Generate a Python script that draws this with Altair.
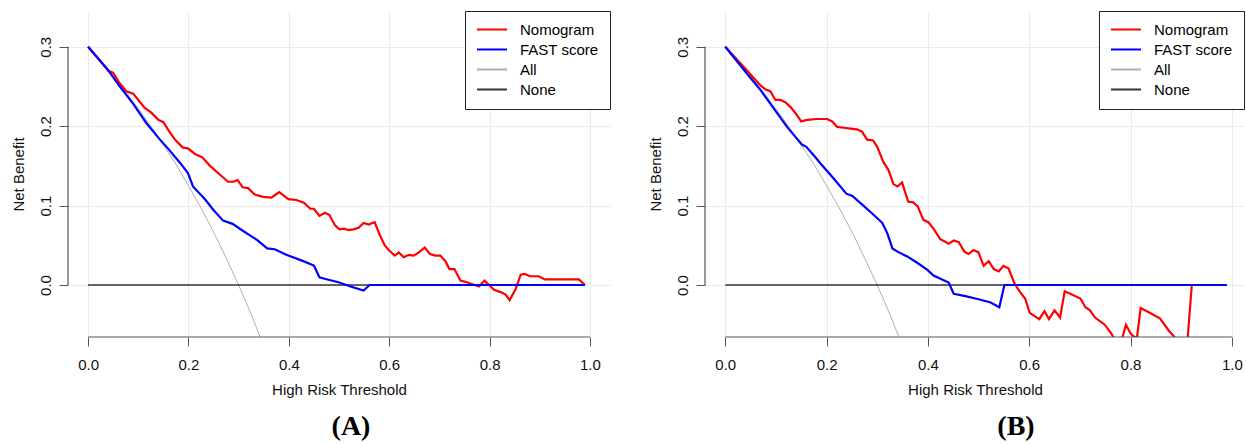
import altair as alt
import pandas as pd

# ---------------- data ----------------
SERIES = ["Nomogram", "FAST score", "All", "None"]
COLORS = ["#ff0000", "#0000ff", "#b0b0b0", "#333333"]
WIDTHS = {"Nomogram": 2.2, "FAST score": 2.2, "All": 1.0, "None": 1.4}

# "All" (treat everyone) curve, same prevalence in both panels
ALL_X = [0.0, 0.025, 0.05, 0.075, 0.1, 0.125, 0.15, 0.175, 0.2, 0.225, 0.25, 0.275, 0.3, 0.325, 0.35]
ALL_Y = [0.300, 0.282, 0.263, 0.243, 0.222, 0.200, 0.176, 0.152, 0.125, 0.097, 0.067, 0.034, 0.000, -0.037, -0.077]

# "None" (treat no one)
NONE_X = [0.0, 0.99]
NONE_Y = [0.0, 0.0]

# Panel A
A_NOMO_X = [0.0, 0.02, 0.04, 0.05, 0.063, 0.076, 0.09, 0.10, 0.113, 0.126, 0.14, 0.15, 0.16, 0.173, 0.189,
            0.199, 0.213, 0.227, 0.243, 0.259, 0.279, 0.289, 0.298, 0.308, 0.319, 0.332, 0.349, 0.365, 0.372,
            0.381, 0.399, 0.415, 0.43, 0.443, 0.45, 0.461, 0.472, 0.481, 0.492, 0.501, 0.51, 0.519, 0.529,
            0.539, 0.549, 0.559, 0.571, 0.582, 0.591, 0.599, 0.611, 0.619, 0.629, 0.639, 0.649, 0.659, 0.671,
            0.681, 0.692, 0.702, 0.712, 0.72, 0.73, 0.742, 0.752, 0.766, 0.779, 0.79, 0.799, 0.809, 0.822,
            0.832, 0.84, 0.852, 0.862, 0.87, 0.88, 0.898, 0.91, 0.978, 0.99]
A_NOMO_Y = [0.300, 0.285, 0.270, 0.267, 0.254, 0.244, 0.241, 0.233, 0.223, 0.217, 0.208, 0.205, 0.195, 0.183, 0.173,
            0.172, 0.165, 0.161, 0.150, 0.141, 0.130, 0.130, 0.132, 0.123, 0.122, 0.114, 0.111, 0.110, 0.113,
            0.117, 0.108, 0.107, 0.1035, 0.096, 0.096, 0.087, 0.091, 0.088, 0.075, 0.070, 0.071, 0.069, 0.070,
            0.072, 0.078, 0.076, 0.079, 0.062, 0.050, 0.044, 0.037, 0.041, 0.035, 0.038, 0.037, 0.041, 0.047,
            0.039, 0.037, 0.037, 0.030, 0.020, 0.020, 0.0055, 0.004, 0.001, -0.002, 0.0055, 0.0, -0.006, -0.009,
            -0.012, -0.019, -0.005, 0.013, 0.014, 0.011, 0.011, 0.007, 0.007, 0.0]

A_FAST_X = [0.0, 0.037, 0.063, 0.09, 0.116, 0.142, 0.159, 0.183, 0.199, 0.209, 0.233, 0.249, 0.269, 0.288,
            0.309, 0.336, 0.357, 0.372, 0.395, 0.425, 0.45, 0.461, 0.473, 0.499, 0.523, 0.549, 0.561, 0.99]
A_FAST_Y = [0.300, 0.273, 0.250, 0.228, 0.204, 0.184, 0.172, 0.154, 0.141, 0.124, 0.108, 0.095, 0.081, 0.077,
            0.068, 0.057, 0.046, 0.045, 0.038, 0.031, 0.0245, 0.0097, 0.0076, 0.0034, -0.002, -0.007, 0.0, 0.0]

# Panel B
B_NOMO_X = [0.0, 0.043, 0.057, 0.070, 0.080, 0.089, 0.099, 0.109, 0.119, 0.129, 0.139, 0.150, 0.162, 0.181,
            0.201, 0.211, 0.221, 0.234, 0.247, 0.260, 0.270, 0.280, 0.292, 0.300, 0.312, 0.322, 0.332, 0.340,
            0.349, 0.361, 0.371, 0.380, 0.391, 0.401, 0.411, 0.424, 0.441, 0.451, 0.461, 0.472, 0.480, 0.490,
            0.500, 0.510, 0.520, 0.530, 0.540, 0.549, 0.559, 0.571, 0.582, 0.592, 0.601, 0.610, 0.620, 0.630,
            0.639, 0.650, 0.661, 0.670, 0.681, 0.701, 0.711, 0.720, 0.730, 0.749, 0.762, 0.778, 0.791, 0.800,
            0.808, 0.813, 0.820, 0.835, 0.858, 0.875, 0.886, 0.895, 0.905, 0.921, 0.99]
B_NOMO_Y = [0.300, 0.270, 0.260, 0.251, 0.246, 0.244, 0.233, 0.233, 0.230, 0.224, 0.216, 0.206, 0.208, 0.209,
            0.209, 0.206, 0.199, 0.198, 0.197, 0.196, 0.193, 0.183, 0.182, 0.174, 0.155, 0.145, 0.127, 0.124,
            0.129, 0.105, 0.104, 0.099, 0.082, 0.079, 0.071, 0.058, 0.052, 0.056, 0.054, 0.042, 0.039, 0.044,
            0.041, 0.024, 0.030, 0.020, 0.017, 0.024, 0.021, 0.002, -0.009, -0.017, -0.035, -0.039, -0.043, -0.033,
            -0.043, -0.032, -0.041, -0.008, -0.011, -0.017, -0.028, -0.032, -0.041, -0.050, -0.061, -0.080, -0.050, -0.061,
            -0.066, -0.065, -0.029, -0.034, -0.042, -0.057, -0.065, -0.090, -0.130, 0.0, 0.0]

B_FAST_X = [0.0, 0.043, 0.070, 0.096, 0.122, 0.151, 0.160, 0.175, 0.188, 0.214, 0.239, 0.251, 0.267, 0.290,
            0.310, 0.320, 0.330, 0.340, 0.359, 0.379, 0.399, 0.411, 0.428, 0.441, 0.451, 0.474, 0.500, 0.524,
            0.541, 0.551, 0.99]
B_FAST_Y = [0.300, 0.266, 0.245, 0.222, 0.199, 0.177, 0.174, 0.163, 0.153, 0.134, 0.115, 0.112, 0.103, 0.090,
            0.078, 0.065, 0.046, 0.042, 0.036, 0.028, 0.019, 0.012, 0.007, 0.003, -0.011, -0.014, -0.018, -0.022,
            -0.028, 0.0, 0.0]

X_TICKS = [0.0, 0.2, 0.4, 0.6, 0.8, 1.0]
Y_TICKS = [0.0, 0.1, 0.2, 0.3]
YMIN, YMAX = -0.0655, 0.345
XMIN = -0.04

FONT = "Liberation Sans"
AXIS_GRAY = "#555555"


def make_panel(nomo_x, nomo_y, fast_x, fast_y, xmax, width, legend_x, label, label_dx):
    rows = []
    for name, xs, ys in [("All", ALL_X, ALL_Y), ("None", NONE_X, NONE_Y),
                         ("Nomogram", nomo_x, nomo_y), ("FAST score", fast_x, fast_y)]:
        for i, (x, y) in enumerate(zip(xs, ys)):
            rows.append({"series": name, "t": x, "nb": y, "idx": i})
    df = pd.DataFrame(rows)

    xscale = alt.Scale(domain=[XMIN, xmax], nice=False, zero=False)
    yscale = alt.Scale(domain=[YMIN, YMAX], nice=False, zero=False)

    xaxis = alt.Axis(values=X_TICKS, format=".1f", domain=False, tickSize=9, tickColor=AXIS_GRAY,
                     tickWidth=1, labelFont=FONT, labelFontSize=15, labelColor="#111111",
                     labelPadding=11, labelFlush=False, labelOverlap=False,
                     titleFont=FONT, titleFontSize=15, titleFontWeight="normal", titleColor="#111111",
                     titlePadding=10, grid=True, gridColor="#ebebeb", gridWidth=1)
    yaxis = alt.Axis(values=Y_TICKS, format=".1f", domain=False, tickSize=9, tickColor=AXIS_GRAY,
                     tickWidth=1, labelFont=FONT, labelFontSize=15, labelColor="#111111",
                     labelAngle=270, labelAlign="center", labelBaseline="alphabetic",
                     labelPadding=9, labelFlush=False, labelOverlap=False,
                     titleFont=FONT, titleFontSize=15, titleFontWeight="normal", titleColor="#111111",
                     titlePadding=12, grid=True, gridColor="#ebebeb", gridWidth=1)

    legend = alt.Legend(title=None, orient="none", legendX=legend_x, legendY=0, direction="vertical",
                        strokeColor="#222222", fillColor="white", padding=11,
                        symbolType="stroke", symbolSize=900, symbolStrokeWidth=2,
                        labelFont=FONT, labelFontSize=15,
                        labelColor="black", labelOffset=12, clipHeight=15, rowPadding=4)

    enc = dict(
        x=alt.X("t:Q", scale=xscale, axis=xaxis, title="High Risk Threshold"),
        y=alt.Y("nb:Q", scale=yscale, axis=yaxis, title="Net Benefit"),
        color=alt.Color("series:N", scale=alt.Scale(domain=SERIES, range=COLORS), legend=legend),
        order=alt.Order("idx:Q"),
    )
    base = alt.Chart(df).encode(**enc)
    layers = []
    for name in ["All", "None", "Nomogram", "FAST score"]:
        layers.append(base.transform_filter(alt.datum.series == name)
                      .mark_line(clip=True, strokeWidth=WIDTHS[name]))

    # R-style axis lines spanning only the tick range
    xline = alt.Chart(pd.DataFrame({"t": [X_TICKS[0]], "t2": [X_TICKS[-1]], "nb": [YMIN]})).mark_rule(
        color=AXIS_GRAY, strokeWidth=1.2).encode(
        x=alt.X("t:Q", scale=xscale, axis=xaxis, title="High Risk Threshold"), x2="t2:Q",
        y=alt.Y("nb:Q", scale=yscale, axis=yaxis, title="Net Benefit"))
    yline = alt.Chart(pd.DataFrame({"t": [XMIN], "nb": [Y_TICKS[0]], "nb2": [Y_TICKS[-1]]})).mark_rule(
        color=AXIS_GRAY, strokeWidth=1.2).encode(
        x=alt.X("t:Q", scale=xscale, axis=xaxis, title="High Risk Threshold"),
        y=alt.Y("nb:Q", scale=yscale, axis=yaxis, title="Net Benefit"), y2="nb2:Q")

    return alt.layer(*layers, xline, yline).properties(
        width=width, height=326,
        title=alt.TitleParams(label, orient="bottom", anchor="middle", frame="group",
                              font="Liberation Serif", fontSize=28, fontWeight="bold", color="black",
                              offset=16, dx=label_dx))


panel_a = make_panel(A_NOMO_X, A_NOMO_Y, A_FAST_X, A_FAST_Y, 1.04, 542, 397, "(A)", 12)
panel_b = make_panel(B_NOMO_X, B_NOMO_Y, B_FAST_X, B_FAST_Y, 1.026, 540, 394, "(B)", 41)

chart = alt.hconcat(panel_a, panel_b, spacing=36).resolve_scale(color="independent") \
    .configure(padding={"left": 10, "top": 10, "right": 0, "bottom": 0}, background="white") \
    .configure_view(stroke=None)

chart.save("out.html", embed_options={"renderer": "svg", "actions": False})
